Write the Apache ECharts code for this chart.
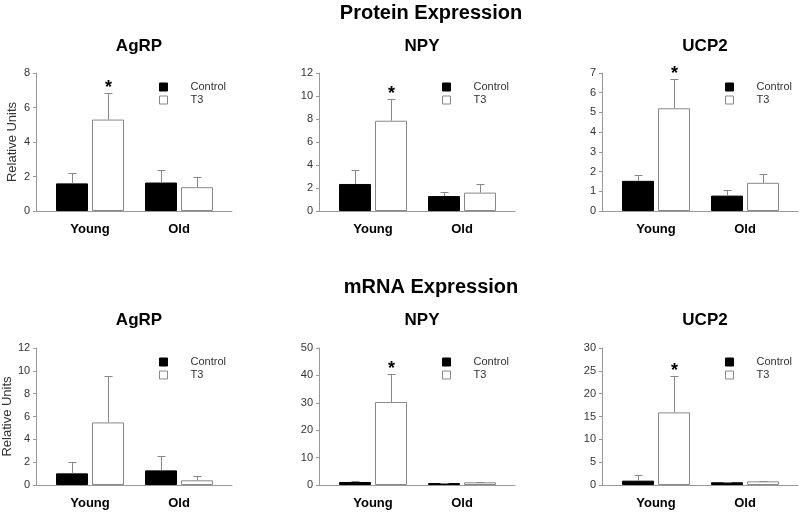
<!DOCTYPE html>
<html>
<head>
<meta charset="utf-8">
<script src="https://cdn.jsdelivr.net/npm/echarts@6/dist/echarts.min.js"></script>
<style>html,body{margin:0;padding:0;background:#fff}#c{width:800px;height:512px}</style>
</head>
<body>
<div id="c"></div>
<script>
// ---- data ----
const groups = ['Young', 'Old'];
const seriesNames = ['Control', 'T3'];
const panelTitles = ['AgRP', 'NPY', 'UCP2', 'AgRP', 'NPY', 'UCP2'];
const rowTitles = ['Protein Expression', 'mRNA Expression'];

// Protein expression (mean, SEM)
const protAgrpControl = [1.6, 1.65];
const protAgrpControlErr = [0.62, 0.7];
const protAgrpT3 = [5.3, 1.38];
const protAgrpT3Err = [1.52, 0.58];

const protNpyControl = [2.35, 1.3];
const protNpyControlErr = [1.25, 0.38];
const protNpyT3 = [7.85, 1.6];
const protNpyT3Err = [1.93, 0.78];

const protUcp2Control = [1.53, 0.78];
const protUcp2ControlErr = [0.31, 0.26];
const protUcp2T3 = [5.21, 1.43];
const protUcp2T3Err = [1.47, 0.44];

// mRNA expression (mean, SEM)
const mrnaAgrpControl = [1.02, 1.28];
const mrnaAgrpControlErr = [0.96, 1.22];
const mrnaAgrpT3 = [5.48, 0.41];
const mrnaAgrpT3Err = [4.1, 0.35];

const mrnaNpyControl = [1.1, 0.7];
const mrnaNpyControlErr = [0.25, 0.15];
const mrnaNpyT3 = [30.3, 0.97];
const mrnaNpyT3Err = [10.3, 0.15];

const mrnaUcp2Control = [0.95, 0.6];
const mrnaUcp2ControlErr = [1.15, 0.15];
const mrnaUcp2T3 = [15.9, 0.8];
const mrnaUcp2T3Err = [8.0, 0.1];

// significance marks on T3 bars (Young, Old)
const protAgrpStar = [true, false];
const protNpyStar = [true, false];
const protUcp2Star = [true, false];
const mrnaAgrpStar = [false, false];
const mrnaNpyStar = [true, false];
const mrnaUcp2Star = [true, false];

// y axis ticks
const yMax = [8, 12, 7, 12, 50, 30];
const yInterval = [2, 2, 1, 2, 10, 5];

const panels = [
  [protAgrpControl, protAgrpControlErr, protAgrpT3, protAgrpT3Err, protAgrpStar],
  [protNpyControl, protNpyControlErr, protNpyT3, protNpyT3Err, protNpyStar],
  [protUcp2Control, protUcp2ControlErr, protUcp2T3, protUcp2T3Err, protUcp2Star],
  [mrnaAgrpControl, mrnaAgrpControlErr, mrnaAgrpT3, mrnaAgrpT3Err, mrnaAgrpStar],
  [mrnaNpyControl, mrnaNpyControlErr, mrnaNpyT3, mrnaNpyT3Err, mrnaNpyStar],
  [mrnaUcp2Control, mrnaUcp2ControlErr, mrnaUcp2T3, mrnaUcp2T3Err, mrnaUcp2Star]
];

// ---- layout ----
const FONT = '"Liberation Sans", Arial, sans-serif';
const colLeft = [36, 319, 602];
const rowTop = [73, 348];
const rowH = [138, 137];
const plotW = 196;
const innerOffset = 9.5;
const innerW = 178;
const barW = 32;
const barOff = 18;
const axisColor = '#999';
const errColor = '#888';

const grid = [], xAxis = [], yAxis = [], series = [], title = [], legend = [];

title.push({ text: rowTitles[0], left: 426, top: -2, textAlign: 'center',
  textStyle: { fontFamily: FONT, fontSize: 20, fontWeight: 'bold', color: '#000' } });
title.push({ text: rowTitles[1], left: 426, top: 272, textAlign: 'center',
  textStyle: { fontFamily: FONT, fontSize: 20, fontWeight: 'bold', color: '#000' } });

panels.forEach((p, i) => {
  const col = i % 3, row = Math.floor(i / 3);
  const L = colLeft[col], T = rowTop[row], H = rowH[row];
  const outer = 2 * i, inner = 2 * i + 1;
  grid.push({ left: L, top: T, width: plotW, height: H });
  grid.push({ left: L + innerOffset, top: T, width: innerW, height: H });

  xAxis.push({ gridIndex: outer, type: 'category', data: [''],
    axisLine: { lineStyle: { color: axisColor, width: 1 } },
    axisTick: { show: false }, axisLabel: { show: false } });
  xAxis.push({ gridIndex: inner, type: 'category', data: groups,
    axisLine: { show: false }, axisTick: { show: false },
    axisLabel: { margin: 12, fontFamily: FONT, fontSize: 13, fontWeight: 'bold', color: '#000' } });

  const yOuter = { gridIndex: outer, type: 'value', min: 0, max: yMax[i], interval: yInterval[i],
    axisLine: { show: true, lineStyle: { color: axisColor, width: 1 } },
    axisTick: { show: true, length: 3, lineStyle: { color: axisColor } },
    splitLine: { show: false },
    axisLabel: { margin: 6, fontFamily: FONT, fontSize: 11, color: '#333' } };
  if (col === 0) {
    Object.assign(yOuter, { name: 'Relative Units', nameLocation: 'middle', nameGap: 17,
      nameTextStyle: { fontFamily: FONT, fontSize: 13, color: '#333' } });
  }
  yAxis.push(yOuter);
  yAxis.push({ gridIndex: inner, type: 'value', min: 0, max: yMax[i], interval: yInterval[i], show: false });

  title.push({ text: panelTitles[i], left: L + plotW / 2, top: row === 0 ? 33 : 307, textAlign: 'center',
    textStyle: { fontFamily: FONT, fontSize: 17, fontWeight: 'bold', color: '#000' } });

  legend.push({ data: seriesNames, orient: 'vertical', left: L + 123, top: T + 8, padding: 0,
    icon: 'rect', itemWidth: 8, itemHeight: 8, itemGap: 1, selectedMode: false,
    itemStyle: { borderWidth: 1 },
    textStyle: { fontFamily: FONT, fontSize: 11, color: '#333', lineHeight: 12, padding: [0, 0, 0, 18] } });

  const [ctrl, ctrlErr, t3, t3Err, star] = p;
  series.push({ name: 'Control', type: 'bar', xAxisIndex: inner, yAxisIndex: inner,
    data: ctrl, barWidth: barW, barGap: '12.5%',
    itemStyle: { color: '#000', borderColor: '#000', borderWidth: 1 } });
  series.push({ name: 'T3', type: 'bar', xAxisIndex: inner, yAxisIndex: inner,
    data: t3, barWidth: barW, barGap: '12.5%',
    itemStyle: { color: '#fff', borderColor: '#888', borderWidth: 1 } });

  const errData = [];
  groups.forEach((g, c) => {
    errData.push([c, ctrl[c], ctrlErr[c], 0, 0]);
    errData.push([c, t3[c], t3Err[c], 1, star[c] ? 1 : 0]);
  });
  series.push({ type: 'custom', xAxisIndex: inner, yAxisIndex: inner, data: errData, z: 5,
    renderItem: function (params, api) {
      const c = api.value(0), m = api.value(1), e = api.value(2), s = api.value(3), st = api.value(4);
      const base = api.coord([c, m]);
      const top = api.coord([c, m + e]);
      const x = Math.round(base[0] + (s === 0 ? -barOff : barOff)) + 0.5;
      const yt = Math.round(top[1]) + 0.5;
      const children = [
        { type: 'line', shape: { x1: x, y1: base[1], x2: x, y2: yt }, style: { stroke: errColor, lineWidth: 1 } },
        { type: 'line', shape: { x1: x - 4, y1: yt, x2: x + 4, y2: yt }, style: { stroke: errColor, lineWidth: 1 } }
      ];
      if (st) {
        children.push({ type: 'text', x: x, y: yt - 5,
          style: { text: '*', fill: '#000', font: 'bold 18px ' + FONT, textAlign: 'center', textVerticalAlign: 'middle' } });
      }
      return { type: 'group', children: children };
    } });
});

const chart = echarts.init(document.getElementById('c'), null, { renderer: 'canvas' });
chart.setOption({ animation: false, backgroundColor: '#fff', title, legend, grid, xAxis, yAxis, series });
</script>
</body>
</html>
